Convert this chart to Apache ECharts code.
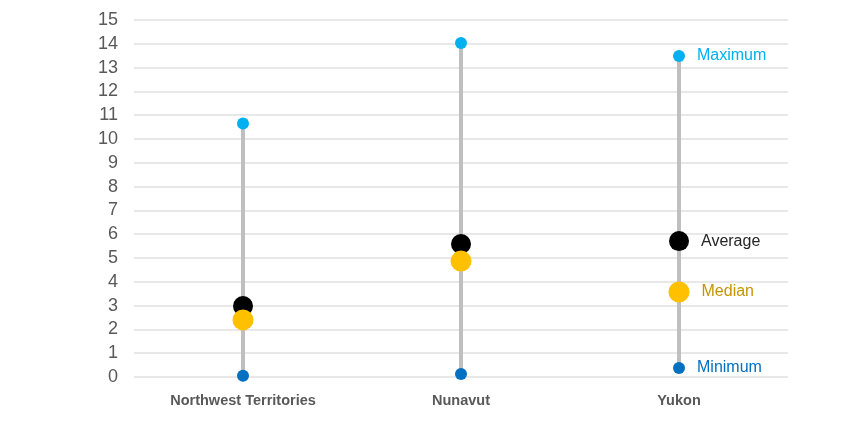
<!DOCTYPE html>
<html><head><meta charset="utf-8">
<script src="https://cdn.jsdelivr.net/npm/echarts@6/dist/echarts.min.js"></script>
<style>html,body{margin:0;padding:0;background:#fff}#c{width:868px;height:430px}</style>
</head><body><div id="c"></div>
<script>
var categories = ['Northwest Territories', 'Nunavut', 'Yukon'];
var maximum = [10.65, 14.03, 13.49];
var average = [2.98, 5.59, 5.71];
var median = [2.40, 4.87, 3.57];
var minimum = [0.05, 0.13, 0.38];
var yTicks = [0, 15, 1];

var font = '"Liberation Sans Narrow", "Arial Narrow", "Liberation Sans", sans-serif';
var chart = echarts.init(document.getElementById('c'), null, {renderer: 'canvas'});

function labelOnLast(text, color) {
  return {
    show: true,
    position: 'right',
    distance: 12,
    fontFamily: font,
    fontSize: 16,
    color: color,
    formatter: function (p) { return p.dataIndex === categories.length - 1 ? text : ''; }
  };
}

chart.setOption({
  animation: false,
  grid: {left: 134, right: 80, top: 20, bottom: 53},
  xAxis: {
    type: 'category',
    data: categories,
    axisLine: {show: false},
    axisTick: {show: false},
    axisLabel: {fontFamily: font, fontWeight: 'bold', fontSize: 14.5, color: '#595959', margin: 16}
  },
  yAxis: {
    type: 'value',
    min: yTicks[0], max: yTicks[1], interval: yTicks[2],
    axisLine: {show: false},
    axisTick: {show: false},
    splitLine: {lineStyle: {color: '#e8e8e8', width: 2}},
    axisLabel: {fontFamily: font, fontSize: 18, color: '#595959', margin: 16}
  },
  series: [
    {
      type: 'custom',
      z: 1,
      renderItem: function (params, api) {
        var lo = api.coord([api.value(0), api.value(1)]);
        var hi = api.coord([api.value(0), api.value(2)]);
        return {type: 'line', shape: {x1: lo[0], y1: lo[1], x2: hi[0], y2: hi[1]},
                style: {stroke: '#bfbfbf', lineWidth: 4}};
      },
      data: categories.map(function (c, i) { return [i, minimum[i], maximum[i]]; })
    },
    {type: 'scatter', z: 3, data: maximum, symbolSize: 12, itemStyle: {color: '#00b0f0', opacity: 1},
     label: labelOnLast('Maximum', '#00b0f0')},
    {type: 'scatter', z: 3, data: minimum, symbolSize: 12, itemStyle: {color: '#0070c0', opacity: 1},
     label: labelOnLast('Minimum', '#0070c0')},
    {type: 'scatter', z: 4, data: average, symbolSize: 20, itemStyle: {color: '#000000', opacity: 1},
     label: labelOnLast('Average', '#262626')},
    {type: 'scatter', z: 5, data: median, symbolSize: 21, itemStyle: {color: '#ffc000', opacity: 1},
     label: labelOnLast('Median', '#c59500')}
  ]
});
</script></body></html>
